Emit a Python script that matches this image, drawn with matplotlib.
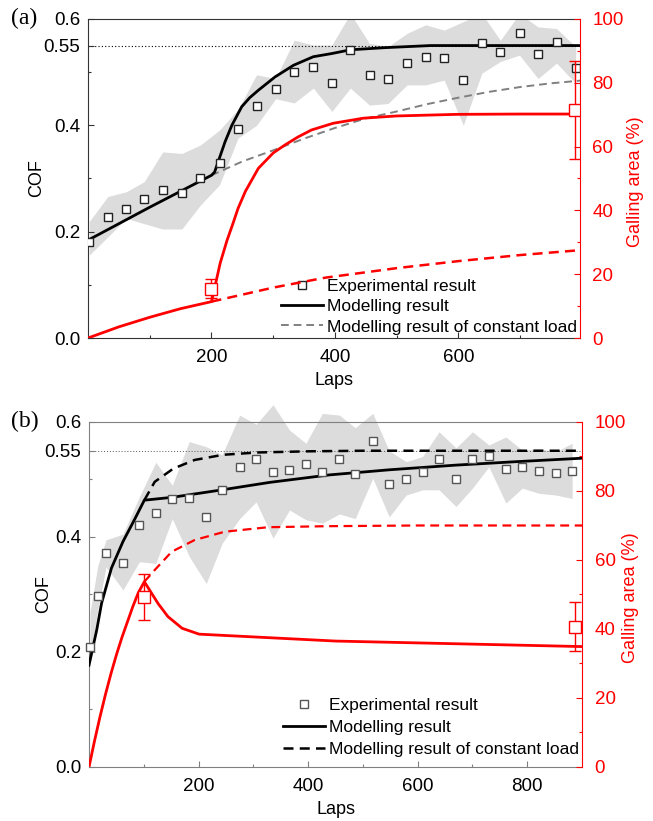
import matplotlib
matplotlib.use("Agg")
import matplotlib.pyplot as plt
from matplotlib.ticker import FixedLocator

plt.rcParams['font.family'] = ['Liberation Sans', 'DejaVu Sans']
plt.rcParams['xtick.direction'] = 'in'
plt.rcParams['ytick.direction'] = 'in'

RED = '#ff0000'

# ---------------- (a) ----------------
exp_a_laps = [2, 32, 62, 91, 121, 152, 182, 213, 243, 273, 304, 334, 365, 395,
              425, 456, 486, 517, 547, 577, 608, 638, 668, 699, 729, 759, 790]
exp_a_cof = [0.180, 0.227, 0.243, 0.261, 0.278, 0.273, 0.300, 0.329, 0.394, 0.436,
             0.469, 0.500, 0.510, 0.480, 0.541, 0.495, 0.487, 0.518, 0.528, 0.527,
             0.485, 0.555, 0.538, 0.574, 0.535, 0.557, 0.508]
band_a_hi = [0.219, 0.266, 0.275, 0.294, 0.350, 0.347, 0.363, 0.391, 0.430, 0.495,
             0.488, 0.560, 0.551, 0.551, 0.610, 0.554, 0.548, 0.573, 0.589, 0.579,
             0.595, 0.610, 0.560, 0.610, 0.585, 0.582, 0.548]
band_a_lo = [0.156, 0.190, 0.225, 0.215, 0.205, 0.205, 0.250, 0.288, 0.376, 0.400,
             0.450, 0.442, 0.470, 0.426, 0.470, 0.438, 0.441, 0.476, 0.476, 0.485,
             0.400, 0.498, 0.520, 0.532, 0.488, 0.517, 0.479]

model_a_laps = [0, 100, 200, 205, 211, 222, 233, 249, 262, 276, 303, 333, 365, 395,
                425, 480, 555, 797]
model_a_cof = [0.184, 0.246, 0.306, 0.312, 0.332, 0.369, 0.400, 0.435, 0.452, 0.466,
               0.491, 0.513, 0.529, 0.535, 0.542, 0.546, 0.550, 0.550]
const_a_laps = [200, 250, 300, 350, 400, 450, 500, 550, 600, 650, 700, 750, 797]
const_a_cof = [0.306, 0.332, 0.353, 0.375, 0.395, 0.413, 0.426, 0.440, 0.452, 0.463,
               0.472, 0.479, 0.484]

gall_a_laps = [0, 50, 100, 150, 200, 202, 208, 214, 225, 235, 243, 255, 276, 300,
               319, 340, 362, 397, 446, 500, 597, 700, 780]
gall_a = [0, 3.5, 6.5, 9.2, 11.4, 13.0, 18.2, 23.4, 30.5, 36.0, 40.6, 46.0, 53.2,
          58.0, 60.5, 63.0, 65.2, 67.3, 68.9, 69.6, 70.1, 70.2, 70.2]
gall_const_a_laps = [200, 250, 300, 384, 450, 500, 600, 700, 789]
gall_const_a = [11.4, 13.6, 15.8, 18.9, 20.6, 21.9, 24.1, 26.0, 27.4]
gall_exp_a_laps = [200, 789]
gall_exp_a = [15.5, 71.5]
gall_err_a = [3.0, 15.4]

# ---------------- (b) ----------------
exp_b_laps = [2, 16, 31, 62, 92, 122, 152, 183, 214, 243, 275, 305, 336, 366, 396,
              426, 457, 486, 518, 548, 579, 609, 639, 670, 700, 730, 761, 791, 821,
              852, 882]
exp_b_cof = [0.208, 0.298, 0.372, 0.355, 0.421, 0.441, 0.466, 0.467, 0.434, 0.482,
             0.522, 0.536, 0.513, 0.517, 0.527, 0.513, 0.535, 0.509, 0.567, 0.493,
             0.501, 0.513, 0.535, 0.500, 0.535, 0.541, 0.518, 0.522, 0.515, 0.512,
             0.515]
band_b_hi = [0.270, 0.350, 0.395, 0.405, 0.470, 0.530, 0.490, 0.566, 0.557, 0.543,
             0.612, 0.596, 0.630, 0.586, 0.563, 0.615, 0.612, 0.590, 0.615, 0.550,
             0.531, 0.540, 0.583, 0.555, 0.583, 0.560, 0.574, 0.551, 0.554, 0.548,
             0.563]
band_b_lo = [0.190, 0.273, 0.348, 0.308, 0.357, 0.354, 0.432, 0.366, 0.319, 0.389,
             0.432, 0.461, 0.398, 0.447, 0.430, 0.424, 0.440, 0.432, 0.502, 0.435,
             0.473, 0.482, 0.482, 0.453, 0.485, 0.522, 0.459, 0.485, 0.476, 0.473,
             0.467]

model_b_laps = [0, 14, 23, 41, 62, 84, 101, 152, 243, 330, 439, 550, 670, 780, 900]
model_b_cof = [0.177, 0.238, 0.285, 0.346, 0.392, 0.432, 0.464, 0.469, 0.482, 0.495,
               0.508, 0.517, 0.525, 0.531, 0.537]
const_b_laps = [101, 120, 154, 193, 245, 308, 400, 500, 900]
const_b_cof = [0.464, 0.496, 0.519, 0.534, 0.543, 0.547, 0.549, 0.550, 0.550]

gall_b_laps = [0, 10, 20, 30, 40, 50, 60, 70, 80, 90, 101, 126, 144, 170, 201, 450, 900]
gall_b = [0, 7.5, 14.5, 21.0, 27.0, 32.5, 37.5, 42.0, 46.5, 50.5, 53.7, 47.4, 43.6,
          40.2, 38.5, 36.5, 34.9]
gall_const_b_laps = [101, 120, 151, 193, 248, 327, 436, 600, 900]
gall_const_b = [53.7, 57.1, 62.4, 65.8, 68.2, 69.5, 69.8, 70.0, 70.0]
gall_exp_b_laps = [101, 888]
gall_exp_b = [49.2, 40.7]
gall_err_b = [6.7, 7.0]

legend_labels = ['Experimental result', 'Modelling result',
                 'Modelling result of constant load']


def style_axes(ax, ax2, xmax, spine_col, cof_x, gall_x):
    ax.set_xlim(0, xmax)
    ax.set_ylim(0, 0.6)
    ax.set_yticks([0, 0.2, 0.4, 0.55, 0.6])
    ax.set_yticklabels(['0.0', '0.2', '0.4', '0.55', '0.6'])
    ax.yaxis.set_minor_locator(FixedLocator([0.1, 0.3, 0.5]))
    ax.set_xticks([t for t in [200, 400, 600, 800] if t < xmax])
    ax.xaxis.set_minor_locator(FixedLocator([t for t in [100, 300, 500, 700] if t < xmax]))
    ax.tick_params(which='major', length=4, width=0.8, labelsize=13.5, color=spine_col)
    ax.tick_params(which='minor', length=2.5, width=0.8, color=spine_col)
    ax.tick_params(axis='x', pad=8)
    ax.tick_params(axis='y', pad=5.5)
    for s in ['left', 'bottom', 'top']:
        ax.spines[s].set_color(spine_col)
    ax.spines['right'].set_visible(False)
    ax.set_xlabel('Laps', fontsize=13)
    ax.set_ylabel('COF', fontsize=13)
    ax.yaxis.set_label_coords(cof_x, 0.5)

    ax2.set_ylim(0, 100)
    ax2.set_yticks([0, 20, 40, 60, 80, 100])
    ax2.yaxis.set_minor_locator(FixedLocator([10, 30, 50, 70, 90]))
    ax2.tick_params(which='major', length=4, width=0.8, labelsize=13.5, pad=9,
                    color=RED, labelcolor=RED)
    ax2.tick_params(which='minor', length=2.5, width=0.8, color=RED)
    for s in ['left', 'bottom', 'top']:
        ax2.spines[s].set_visible(False)
    ax2.spines['right'].set_color(RED)
    ax2.set_ylabel('Galling area (%)', color=RED, fontsize=13)
    ax2.yaxis.set_label_coords(gall_x, 0.49)


fig = plt.figure(figsize=(6.53, 8.21), dpi=100)

# panel (a)
ax = fig.add_axes([0.1348, 0.5883, 0.7534, 0.3886])
ax.fill_between(exp_a_laps, band_a_lo, band_a_hi, color='#dcdcdc', lw=0, zorder=0)
ax.axhline(0.55, color='black', ls=(0, (1, 2)), lw=0.8, zorder=1)
ax.plot(const_a_laps, const_a_cof, color='#808080', ls=(0, (4, 2.5)), lw=1.4, zorder=2)
ax.plot(model_a_laps, model_a_cof, color='black', lw=2, zorder=3)
ax.plot(exp_a_laps, exp_a_cof, ls='none', marker='s', ms=6, mfc='white',
        mec='#222222', mew=1.0, zorder=4)
h_exp = plt.Line2D([], [], ls='none', marker='s', ms=6, mfc='white', mec='#222222', mew=1.0)
h_mod = plt.Line2D([], [], color='black', lw=2)
h_con = plt.Line2D([], [], color='#808080', ls=(0, (4, 2.5)), lw=1.4)
ax.legend([h_exp, h_mod, h_con], legend_labels, loc='lower right',
          bbox_to_anchor=(1.0, 0.0), frameon=False, fontsize=12.5,
          handlelength=2.4, handletextpad=0.2, labelspacing=0.3,
          borderaxespad=0.1, borderpad=0.1)

ax2 = ax.twinx()
ax2.plot(gall_a_laps, gall_a, color=RED, lw=2)
ax2.plot(gall_const_a_laps, gall_const_a, color=RED, ls=(0, (4, 2.5)), lw=1.8)
ax2.errorbar(gall_exp_a_laps, gall_exp_a, yerr=gall_err_a, fmt='s', ms=8,
             mfc='white', mec=RED, ecolor=RED, elinewidth=1, capsize=4.5,
             capthick=1, mew=1)
style_axes(ax, ax2, 797, '#333333', -0.087, 1.0955)
fig.text(0.017, 0.977, '(a)', fontsize=17, family='Liberation Serif', va='center')

# panel (b)
bx = fig.add_axes([0.1363, 0.0658, 0.755, 0.4202])
band = bx.fill_between(exp_b_laps, band_b_lo, band_b_hi, color='#dcdcdc', lw=0, zorder=0)
band.set_clip_on(False)
bx.axhline(0.55, color='#555555', ls=(0, (1, 2)), lw=0.7, zorder=1)
bx.plot(const_b_laps, const_b_cof, color='black', ls=(0, (4, 2.5)), lw=1.8, zorder=2)
bx.plot(model_b_laps, model_b_cof, color='black', lw=2, zorder=3)
bx.plot(exp_b_laps, exp_b_cof, ls='none', marker='s', ms=6, mfc='white',
        mec='#555555', mew=1.0, zorder=4, clip_on=False)
g_exp = plt.Line2D([], [], ls='none', marker='s', ms=6, mfc='white', mec='#555555', mew=1.0)
g_mod = plt.Line2D([], [], color='black', lw=2)
g_con = plt.Line2D([], [], color='black', ls=(0, (4, 2.5)), lw=1.8)
bx.legend([g_exp, g_mod, g_con], legend_labels, loc='lower right',
          bbox_to_anchor=(1.0, 0.02), frameon=False, fontsize=12.5,
          handlelength=2.4, handletextpad=0.2, labelspacing=0.38,
          borderaxespad=0.1, borderpad=0.1)

bx2 = bx.twinx()
bx2.plot(gall_b_laps, gall_b, color=RED, lw=2)
bx2.plot(gall_const_b_laps, gall_const_b, color=RED, ls=(0, (4, 2.5)), lw=1.6)
bx2.errorbar(gall_exp_b_laps, gall_exp_b, yerr=gall_err_b, fmt='s', ms=8,
             mfc='white', mec=RED, ecolor=RED, elinewidth=1, capsize=4.5,
             capthick=1, mew=1)
style_axes(bx, bx2, 900, '#808080', -0.075, 1.081)
fig.text(0.017, 0.487, '(b)', fontsize=17, family='Liberation Serif', va='center')

fig.savefig('out.png', dpi=100)
